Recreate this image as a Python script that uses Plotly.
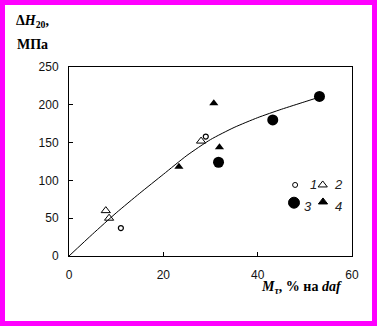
import plotly.graph_objects as go

# Measured hardness increment vs. content, four sample groups
s1_x = [11.0, 29.0]
s1_y = [37, 158]
s2_x = [7.8, 8.5, 28.0]
s2_y = [60, 50, 152]
s3_x = [31.7, 43.2, 53.1]
s3_y = [124, 180, 211]
s4_x = [23.3, 30.7, 31.9]
s4_y = [118, 202, 144]

# Smoothed trend line
trend_x = [0, 5, 10, 15, 20, 25, 30, 35, 40, 45, 50, 53]
trend_y = [0, 29, 57, 83, 108, 133, 154, 170, 183, 194, 204, 210]

x_ticks = [0, 20, 40, 60]
y_ticks = [0, 50, 100, 150, 200, 250]
legend_labels = ["1", "2", "3", "4"]

fig = go.Figure()

fig.add_trace(go.Scatter(x=trend_x, y=trend_y, mode="lines",
                         line=dict(color="black", width=1, shape="spline", smoothing=0.6),
                         hoverinfo="skip"))
fig.add_trace(go.Scatter(x=s1_x, y=s1_y, mode="markers",
                         marker=dict(symbol="circle-open", size=5, color="black",
                                     line=dict(width=1.2, color="black"))))
fig.add_trace(go.Scatter(x=s2_x, y=s2_y, mode="markers",
                         marker=dict(symbol="triangle-up-open", size=8, color="black",
                                     line=dict(width=1, color="black"))))
fig.add_trace(go.Scatter(x=s3_x, y=s3_y, mode="markers",
                         marker=dict(symbol="circle", size=11, color="black")))
fig.add_trace(go.Scatter(x=s4_x, y=s4_y, mode="markers",
                         marker=dict(symbol="triangle-up", size=8, color="black")))

# Key: marker samples on an overlay axis spanning the plot area
key_x = [0.799, 0.8965, 0.795, 0.8975]
key_y = [0.376, 0.376, 0.282, 0.286]
key_sym = ["circle-open", "triangle-up-open", "circle", "triangle-up"]
key_size = [5, 8, 11, 8]
for kx, ky, ks, kz in zip(key_x, key_y, key_sym, key_size):
    fig.add_trace(go.Scatter(x=[kx], y=[ky], mode="markers", xaxis="x2", yaxis="y2",
                             marker=dict(symbol=ks, size=kz, color="black",
                                         line=dict(width=1, color="black"))))

lab_x = [0.864, 0.9525, 0.843, 0.9525]
lab_y = [0.376, 0.376, 0.262, 0.262]
annotations = []
for t, lx, ly in zip(legend_labels, lab_x, lab_y):
    annotations.append(dict(x=lx, y=ly, xref="paper", yref="paper", text="<i>" + t + "</i>",
                            showarrow=False, xanchor="center", yanchor="middle",
                            font=dict(family="Liberation Sans", size=13, color="#222222")))

annotations.append(dict(x=-0.13, y=1.24, xref="paper", yref="paper",
                        text="<b>Δ<i>H</i><sub>20</sub>,</b>", showarrow=False,
                        xanchor="center", yanchor="middle",
                        font=dict(family="Liberation Serif", size=14, color="black")))
annotations.append(dict(x=-0.13, y=1.12, xref="paper", yref="paper",
                        text="<b>МПа</b>", showarrow=False,
                        xanchor="center", yanchor="middle",
                        font=dict(family="Liberation Serif", size=14, color="black")))
annotations.append(dict(x=0.97, y=-0.165, xref="paper", yref="paper",
                        text="<b><i>M</i><sub><i>τ</i></sub>, % на <i>daf</i></b>",
                        showarrow=False, xanchor="right", yanchor="middle",
                        font=dict(family="Liberation Serif", size=14, color="black")))

shapes = [dict(type="rect", xref="paper", yref="paper",
               x0=(2.5 - 69) / 283, x1=(374.5 - 69) / 283,
               y0=(256 - 323.5) / 189, y1=(256 - 2.5) / 189,
               line=dict(color="#FF00FF", width=5), fillcolor="rgba(0,0,0,0)")]

axis_font = dict(family="Liberation Sans", size=12, color="#111111")
fig.update_layout(
    width=377, height=326,
    margin=dict(l=69, r=25, t=67, b=70),
    paper_bgcolor="white", plot_bgcolor="white",
    showlegend=False,
    annotations=annotations,
    shapes=shapes,
    xaxis=dict(range=[0, 60], tickvals=x_ticks, ticks="inside", ticklen=4,
               tickcolor="black", showline=True, linecolor="black", linewidth=1,
               mirror=True, showgrid=False, zeroline=False, tickfont=axis_font,
               ticklabelstandoff=8),
    yaxis=dict(range=[0, 250], tickvals=y_ticks, ticks="inside", ticklen=4,
               tickcolor="black", showline=True, linecolor="black", linewidth=1,
               mirror=True, showgrid=False, zeroline=False, tickfont=axis_font,
               ticklabelstandoff=7),
    xaxis2=dict(range=[0, 1], overlaying="x", visible=False),
    yaxis2=dict(range=[0, 1], overlaying="y", visible=False),
)

fig.write_html("out.html")
